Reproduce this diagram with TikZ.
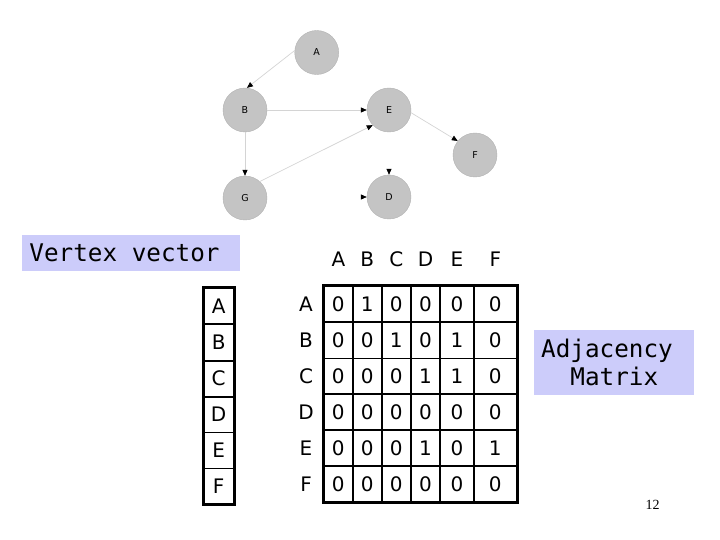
\documentclass[tikz,border=0pt]{standalone}
\usepackage{fontspec}
\setmainfont{DejaVu Sans}
\newfontfamily\monofont{DejaVu Sans Mono}
\newfontfamily\serifnum{Liberation Serif}
\usetikzlibrary{arrows.meta}
\definecolor{nodegray}{RGB}{196,196,196}
\definecolor{nodeborder}{RGB}{178,178,178}
\definecolor{edgegray}{RGB}{212,212,212}
\definecolor{lavender}{RGB}{204,204,250}
\begin{document}
\begin{tikzpicture}[x=1pt,y=-1pt,
  vtx/.style={circle,fill=nodegray,draw=nodeborder,line width=0.4pt,minimum size=44pt,inner sep=0pt,font=\fontsize{9.5}{10}\selectfont},
  edge/.style={draw=edgegray,line width=0.7pt,-{Triangle[length=6pt,width=5pt,color=black]}},
  ghostedge/.style={draw=white,line width=0.7pt,-{Triangle[length=6pt,width=5pt,color=black]}},
  labelbox/.style={fill=lavender,anchor=north west,inner ysep=0pt,align=left,font=\monofont\fontsize{24.3}{28.4}\selectfont},
  cell/.style={draw,line width=1.6pt,inner sep=0pt,font=\fontsize{20}{22}\selectfont},
  lab/.style={inner sep=0pt,font=\fontsize{20}{22}\selectfont}]
\useasboundingbox (0,0) rectangle (720,540);

% graph
\node[vtx] (A) at (316.7,52.5) {A};
\node[vtx] (B) at (245,110) {B};
\node[vtx] (E) at (389,110) {E};
\node[vtx] (F) at (475,155) {F};
\node[vtx] (G) at (245,198) {G};
\node[vtx] (D) at (389,197) {D};
\coordinate (dtop) at (389,150);
\coordinate (dleft) at (340,197);
\draw[edge] (A.175) -- (B.85);
\draw[edge] (B.east) -- (E.west);
\draw[edge] (B.south) -- (G.north);
\draw[edge] (G.48) -- (E.223);
\draw[edge] (E.353) -- (F.141);
\draw[ghostedge] (dtop) -- (D.north);
\draw[ghostedge] (dleft) -- (D.west);

% labels
\node[labelbox,inner xsep=7.5pt,text width=203.3pt,minimum height=36.4pt] (vv) at (21.7,234.3) {Vertex\phantom{x}vector};
\node[labelbox,inner xsep=7pt,text width=146pt,minimum height=65pt] (am) at (534,330) {Adjacency\\\phantom{xx}Matrix};
\node[inner sep=0pt,font=\serifnum\fontsize{14}{16}\selectfont] (pg) at (652.7,505) {12};

% vertex vector
\foreach \r/\yt/\yb in {A/288.3/324,B/324/360.7,C/360.7/396.7,D/396.7/432.3,E/432.3/468.3,F/468.3/503.3}{
  \node[cell,minimum width=29.3pt,minimum height={\yb-\yt}] (v\r) at (218.65,{(\yt+\yb)/2}) {\r};
}
\draw[line width=3pt] (vA.north west) rectangle (vF.south east);

% matrix
\foreach \r/\yt/\yb/\vals in {A/286/321.7/{0,1,0,0,0,0},B/321.7/358.3/{0,0,1,0,1,0},C/358.3/394/{0,0,0,1,1,0},D/394/430/{0,0,0,0,0,0},E/430/466/{0,0,0,1,0,1},F/466/501.7/{0,0,0,0,0,0}}{
  \node[lab] (row\r) at (306,{(\yt+\yb)/2}) {\r};
  \foreach \v [count=\c] in \vals {
    \pgfmathsetmacro\xl{{324,352.7,381.7,411,440,474}[\c-1]}
    \pgfmathsetmacro\xr{{352.7,381.7,411,440,474,516.7}[\c-1]}
    \node[cell,minimum width={\xr-\xl},minimum height={\yb-\yt}] (m\r\c) at ({(\xl+\xr)/2},{(\yt+\yb)/2}) {\v};
  }
}
\draw[line width=3pt] (mA1.north west) rectangle (mF6.south east);
\foreach \h [count=\c] in {A,B,C,D,E,F}{
  \path (mA\c) ++(0,-44.5) node[lab] (col\h) {\h};
}
\end{tikzpicture}
\end{document}
